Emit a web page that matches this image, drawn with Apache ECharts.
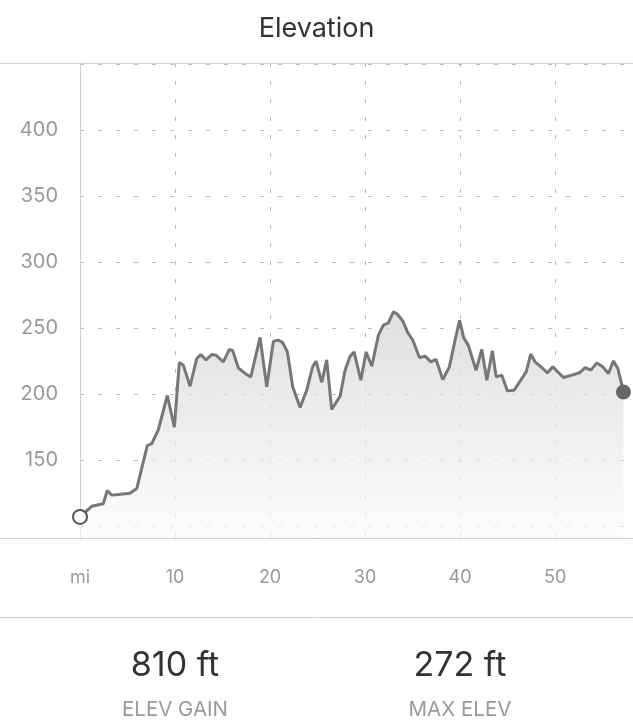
<!DOCTYPE html>
<html>
<head>
<meta charset="utf-8">
<script src="https://cdn.jsdelivr.net/npm/echarts@6/dist/echarts.min.js"></script>
<style>
html, body { margin: 0; padding: 0; background: #fff; }
#chart { width: 633px; height: 724px; }
</style>
</head>
<body>
<div id="chart"></div>
<script>
// distance along route (mi) and elevation (ft)
var distMi = [0, 1.23, 2.45, 2.87, 3.34, 4.03, 5.26, 5.97, 7.08, 7.55, 8.24, 9.19, 9.93,
  10.45, 10.87, 11.58, 12.28, 12.71, 13.26, 13.86, 14.32, 15.08, 15.72, 16.07, 16.66, 17.37, 17.97, 18.95, 19.65,
  20.35, 20.87, 21.34, 21.82, 22.39, 23.16, 23.86, 24.49, 24.84, 25.44, 25.96, 26.49, 27.37, 27.89, 28.42, 28.84, 29.55,
  30.11, 30.71, 31.4, 31.93, 32.45, 32.98, 33.4, 33.97, 34.45, 35.02, 35.72, 36.32, 36.92, 37.47, 38.18, 38.87, 39.47, 39.95,
  40.37, 40.87, 41.68, 42.28, 42.81, 43.4, 43.79, 44.39, 44.98, 45.68, 46.32, 46.95, 47.44, 47.89, 48.6, 49.19, 49.76,
  50.87, 51.76, 52.56, 53.16, 53.76, 54.39, 55.02, 55.61, 56.14, 56.6, 57.19];
var elevFt = [107, 115, 117, 127, 123.5, 124, 125, 128.5, 161, 162.6, 173, 199, 175,
  224, 222, 206, 227, 230, 226, 230, 229.5, 224.5, 234, 233, 220, 215.7, 213, 243, 205.5,
  240, 241, 239, 232, 205.5, 190, 203, 221, 225, 209, 226, 188.4, 198.5, 218, 228.8, 232, 210.6,
  232, 221.2, 244.7, 252.3, 254, 262.4, 260.6, 255.5, 247.2, 241, 227.8, 228.8, 224.5, 226.3, 211, 220.7, 241, 256,
  243, 237, 218, 234, 210.6, 232.8, 213.1, 214.4, 202.5, 203, 210, 216.9, 230.3, 224.5, 220.2, 216.2, 220.7,
  212.6, 214.4, 216.2, 220.2, 218.2, 223.7, 220.7, 215.7, 225.2, 219.5, 201.7];

var yLabels = [150, 200, 250, 300, 350, 400];
var statValues = ['810 ft', '272 ft'];
var statNames = ['ELEV GAIN', 'MAX ELEV'];

var font = 'Inter, Roboto, "Noto Sans", sans-serif';
var chart = echarts.init(document.getElementById('chart'));

var seriesData = distMi.map(function (d, i) {
  var item = { value: [d, elevFt[i]] };
  if (i === 0) {
    item.symbol = 'circle';
    item.symbolSize = 14;
    item.itemStyle = { color: '#fff', borderColor: '#555', borderWidth: 2 };
  } else if (i === distMi.length - 1) {
    item.symbol = 'circle';
    item.symbolSize = 15;
    item.itemStyle = { color: '#666', borderColor: '#666', borderWidth: 0 };
  }
  return item;
});

var option = {
  animation: false,
  backgroundColor: '#fff',
  title: {
    text: 'Elevation',
    left: 'center',
    top: 10,
    textStyle: { fontFamily: font, fontSize: 27, fontWeight: 'normal', color: '#333' }
  },
  // right edge sits just past the window so the extent split line is not drawn
  grid: { left: 80, right: -1, top: 63, bottom: 186, outerBoundsMode: 'none', containLabel: false },
  xAxis: {
    type: 'value',
    min: 0,
    max: 58.3,
    interval: 10,
    axisLine: { show: false },
    axisTick: { show: true, inside: true, length: 4, lineStyle: { color: '#bbb' } },
    axisLabel: {
      margin: 31,
      fontFamily: font,
      fontSize: 18,
      color: '#999',
      formatter: function (v) {
        if (v === 0) return 'mi';
        return v % 10 === 0 ? String(v) : '';
      }
    },
    splitLine: { show: true, lineStyle: { color: '#bbb', type: [4, 14], width: 1 } }
  },
  yAxis: {
    type: 'value',
    min: 91,
    max: 451,
    splitNumber: 7,
    axisLine: { show: true, lineStyle: { color: '#d0d0d0', width: 1 } },
    axisTick: { show: false },
    axisLabel: {
      margin: 22,
      fontFamily: font,
      fontSize: 20,
      color: '#999',
      formatter: function (v) {
        return yLabels.indexOf(v) >= 0 ? String(v) : '';
      }
    },
    splitLine: { show: true, lineStyle: { color: '#bbb', type: [4, 14], width: 1 } }
  },
  series: [
    {
      type: 'line',
      data: seriesData,
      symbol: 'none',
      showSymbol: true,
      lineStyle: { color: '#777', width: 3 },
      itemStyle: { color: '#777' },
      areaStyle: {
        color: new echarts.graphic.LinearGradient(0, 0, 0, 1, [
          { offset: 0, color: '#d2d2d2' },
          { offset: 1, color: '#fbfbfb' }
        ])
      },
      z: 3
    }
  ],
  graphic: [
    { type: 'line', shape: { x1: 0, y1: 63.5, x2: 633, y2: 63.5 }, style: { stroke: '#d0d0d0', lineWidth: 1 }, z: 10 },
    { type: 'line', shape: { x1: 0, y1: 538.5, x2: 633, y2: 538.5 }, style: { stroke: '#d0d0d0', lineWidth: 1 }, z: 10 },
    { type: 'line', shape: { x1: 0, y1: 617.5, x2: 633, y2: 617.5 }, style: { stroke: '#d0d0d0', lineWidth: 1 }, z: 10 },
    { type: 'text', x: 175, y: 666, style: { text: statValues[0], fontFamily: font, fontSize: 34, fill: '#333', align: 'center', verticalAlign: 'middle' } },
    { type: 'text', x: 460, y: 666, style: { text: statValues[1], fontFamily: font, fontSize: 34, fill: '#333', align: 'center', verticalAlign: 'middle' } },
    { type: 'text', x: 175, y: 710, style: { text: statNames[0], fontFamily: font, fontSize: 20.5, fill: '#999', align: 'center', verticalAlign: 'middle' } },
    { type: 'text', x: 460, y: 710, style: { text: statNames[1], fontFamily: font, fontSize: 20.5, fill: '#999', align: 'center', verticalAlign: 'middle' } }
  ]
};

chart.setOption(option);
</script>
</body>
</html>
